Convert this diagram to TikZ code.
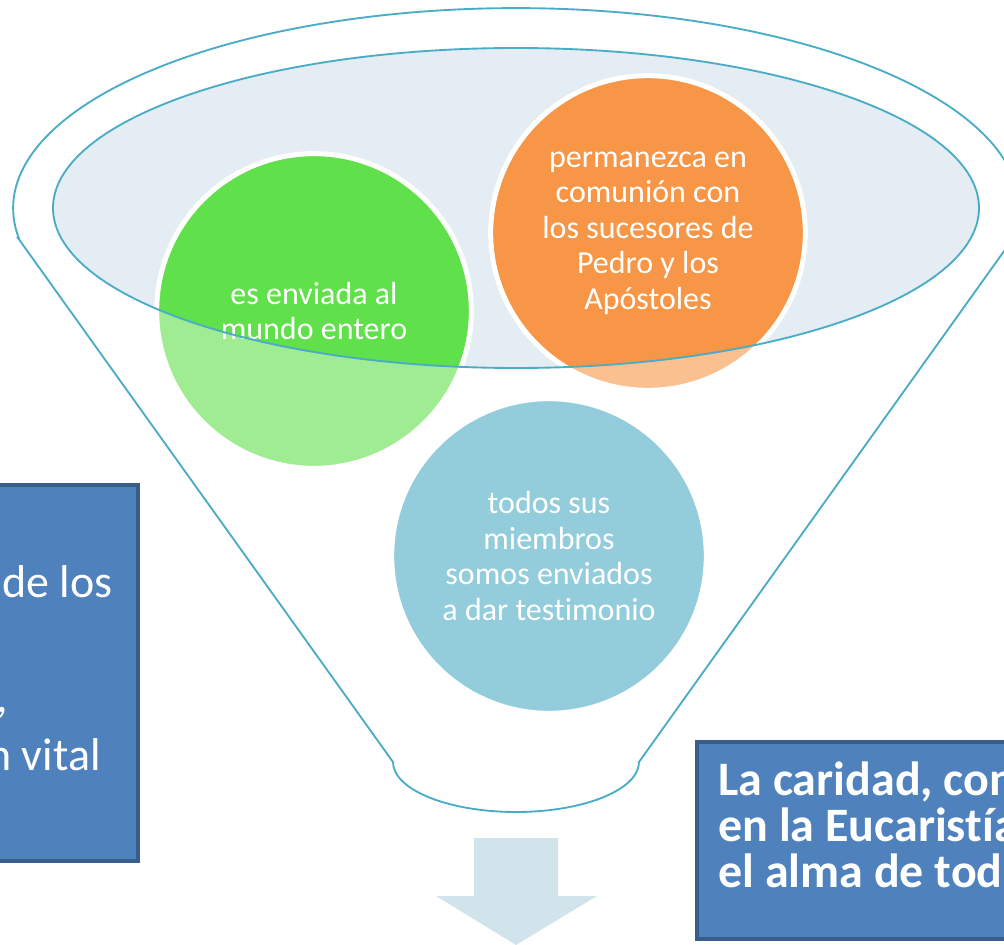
\documentclass[tikz,border=0pt]{standalone}
\usepackage{fontspec}
\setmainfont{Carlito}[Ligatures=NoCommon]
\definecolor{borde}{HTML}{4BACC6}
\definecolor{boca}{HTML}{E4EDF3}
\definecolor{verde}{HTML}{60E04A}
\definecolor{naranja}{HTML}{F79646}
\definecolor{celeste}{HTML}{4BACC6}
\definecolor{flecha}{HTML}{D1E3EB}
\definecolor{cajafondo}{HTML}{4F81BD}
\definecolor{cajaborde}{HTML}{385D8A}
\tikzset{
  circulo/.style={circle, draw=white, line width=3.75pt, minimum size=236pt,
    inner sep=0pt, text=white, align=center,
    font=\fontsize{24}{26.6}\selectfont},
  embudo/.style={draw=borde, line width=1.4pt},
  caja/.style={fill=cajafondo, draw=cajaborde, line width=3pt},
  izqtxt/.style={anchor=base east, inner sep=0pt, text=white,
    font=\fontsize{34.5}{43}\selectfont},
  dertxt/.style={anchor=base west, inner sep=0pt, text=white,
    font=\fontsize{36}{37}\selectfont\bfseries}
}
\begin{document}
\begin{tikzpicture}[x=0.75pt, y=-0.75pt]
  \useasboundingbox (0,0) rectangle (1004,945);
  \clip (0,0) rectangle (1004,945);

  % funnel
  \draw[embudo] (18,238) -- (393,762)
    arc[start angle=180, end angle=0, x radius=123, y radius=50]
    -- (1013.4,238)
    arc[start angle=8.6, end angle=-188.6, x radius=503, y radius=200] -- cycle;
  \fill[boca] (516,208) ellipse [x radius=463, y radius=160];

  \node[circulo, fill=verde] (enviada) at (314,311) {es enviada al\\mundo entero};
  \node[circulo, fill=naranja] (comunion) at (648,233)
    {permanezca en\\comunión con\\los sucesores de\\Pedro y los\\Apóstoles};
  \node[circulo, fill=celeste] (testimonio) at (549,556)
    {todos sus\\miembros\\somos enviados\\a dar testimonio};

  % paler below the rim
  \begin{scope}
    \clip (enviada.center) circle (160) (comunion.center) circle (160)
      (testimonio.center) circle (160);
    \fill[white, fill opacity=0.4, even odd rule] (0,0) rectangle (1004,945)
      (516,208) ellipse [x radius=463, y radius=160];
  \end{scope}
  \draw[embudo] (516,208) ellipse [x radius=463, y radius=160];

  \fill[flecha] (474,838) -- (558,838) -- (558,896) -- (597,896) -- (516,945)
    -- (436,896) -- (474,896) -- cycle;

  % text boxes
  \draw[caja] (-20,485) rectangle (138,861);
  \node[izqtxt] (delos) at (113,597) {de los};
  \node[izqtxt] (coma) at (8,712) {,};
  \node[izqtxt] (vital) at (101,770) {n vital};

  \draw[caja] (697,742) rectangle (1030,939);
  \node[dertxt] (caridad) at (718,795) {La caridad, con};
  \node[dertxt] (eucaristia) at (718,841) {en la Eucaristía};
  \node[dertxt] (alma) at (718,887) {el alma de tod};
\end{tikzpicture}
\end{document}
